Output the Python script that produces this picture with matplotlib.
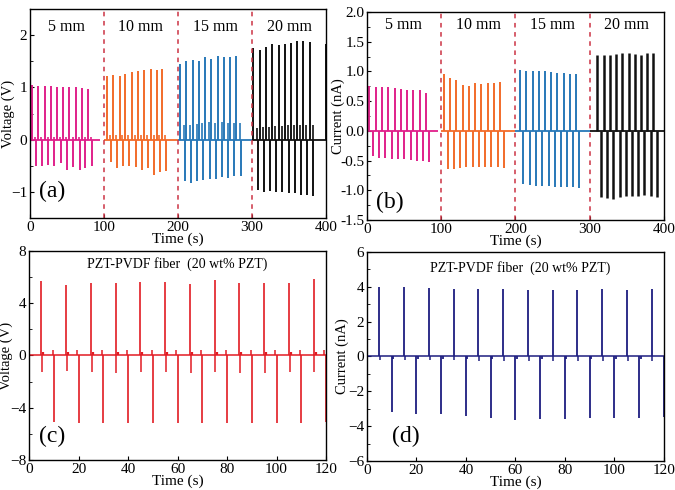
import matplotlib
matplotlib.use('Agg')
import matplotlib.pyplot as plt
from matplotlib.ticker import MultipleLocator

plt.rcParams['font.family'] = ['Liberation Serif', 'DejaVu Serif']
plt.rcParams['font.size'] = 11

# ---- data ----
segments = ['5 mm', '10 mm', '15 mm', '20 mm']
seg_colors = ['#e0208a', '#f26b2a', '#2878b8', '#111111']
seg_ranges = [(0, 95), (100, 200), (200, 300), (300, 400)]

# (a) voltage
a_pos_t = [[3, 11, 20, 28, 36.5, 45, 53, 62, 70, 78],
           [104, 112, 121, 129, 138, 146, 154, 163, 171, 179],
           [203, 211, 220, 228, 237, 245, 254, 262, 270, 279],
           [302, 311, 319, 327, 336, 344, 353, 361, 369, 378, 399.5]]
a_pos_v = [[1.05, 1.02, 1.03, 1.03, 1.0, 1.01, 1.01, 1.0, 0.98, 0.96],
           [1.21, 1.23, 1.22, 1.25, 1.29, 1.31, 1.33, 1.35, 1.33, 1.35],
           [1.45, 1.50, 1.52, 1.50, 1.58, 1.55, 1.60, 1.58, 1.58, 1.60],
           [1.75, 1.72, 1.78, 1.83, 1.82, 1.83, 1.85, 1.88, 1.88, 1.87, 1.83]]
a_neg_t = [[8, 16.5, 25, 33, 41.5, 50, 58.5, 67, 75, 83.5],
           [109, 117, 126, 134, 143, 151, 159, 168, 176, 184],
           [209, 217, 226, 234, 243, 251, 260, 268, 276, 285],
           [307.5, 316, 324.5, 332.5, 341, 349.5, 358, 366, 374.5, 383]]
a_neg_v = [[-0.50, -0.50, -0.48, -0.50, -0.45, -0.59, -0.52, -0.59, -0.54, -0.51],
           [-0.42, -0.55, -0.50, -0.50, -0.52, -0.58, -0.55, -0.68, -0.62, -0.60],
           [-0.80, -0.83, -0.80, -0.77, -0.75, -0.75, -0.72, -0.73, -0.70, -0.70],
           [-0.97, -1.00, -0.98, -1.00, -1.00, -1.03, -1.02, -1.05, -1.05, -1.08]]
# small positive peaks before the negative pulse (15 and 20 mm)
a_small_v = [[0.05] * 10, [0.08] * 10,
             [0.28, 0.29, 0.30, 0.31, 0.33, 0.32, 0.33, 0.31, 0.32, 0.31],
             [0.22, 0.24, 0.25, 0.27, 0.27, 0.28, 0.28, 0.29, 0.29, 0.29]]

# (b) current
b_pos_t = [[3, 11.7, 20.2, 28.7, 37.3, 45.8, 54, 62.4, 71, 79],
           [103.5, 112, 120.5, 129, 137.5, 146, 154, 162.5, 171, 179],
           [205.6, 214.6, 223.2, 231.3, 239.7, 248.2, 256.3, 264.9, 273, 281],
           [310.2, 318.8, 327.3, 335.8, 343.9, 352.5, 360.6, 369, 377.6, 385.6]]
b_pos_v = [[0.76, 0.74, 0.73, 0.73, 0.72, 0.70, 0.69, 0.68, 0.68, 0.63],
           [0.95, 0.89, 0.85, 0.78, 0.76, 0.80, 0.79, 0.81, 0.81, 0.82],
           [1.02, 1.01, 1.00, 1.00, 1.00, 0.99, 0.98, 0.97, 0.96, 0.96],
           [1.28, 1.27, 1.27, 1.30, 1.31, 1.31, 1.30, 1.28, 1.31, 1.31]]
b_neg_t = [[8.1, 16.6, 24.7, 33.3, 41.8, 50.3, 58.9, 67, 75.4, 83.9],
           [108.5, 117, 125.5, 134, 142.5, 151, 159, 167.5, 176, 184],
           [210.6, 219.6, 228.2, 236.3, 244.7, 253.2, 261.3, 269.9, 278, 286],
           [314.7, 323.3, 331.8, 340.3, 348.4, 357, 365.1, 373.5, 382.1, 390.1]]
b_neg_v = [[-0.42, -0.45, -0.46, -0.47, -0.47, -0.48, -0.49, -0.51, -0.51, -0.52],
           [-0.65, -0.65, -0.62, -0.61, -0.60, -0.60, -0.61, -0.61, -0.61, -0.62],
           [-0.90, -0.91, -0.92, -0.93, -0.93, -0.94, -0.94, -0.94, -0.95, -0.96],
           [-1.11, -1.13, -1.14, -1.12, -1.10, -1.09, -1.10, -1.08, -1.10, -1.11]]

# (c) and (d), 20 wt% PZT fiber
cd_pos_t = [5, 15, 25, 35, 45, 55, 65, 75, 85, 95, 105, 115]
cd_neg_t = [10, 20, 30, 40, 50, 60, 70, 80, 90, 100, 110, 119.8]
c_pos_v = [5.7, 5.4, 5.55, 5.55, 5.65, 5.65, 5.45, 5.8, 5.55, 5.55, 5.55, 5.85]
c_after_v = [-1.25, -1.2, -1.3, -1.35, -1.3, -1.3, -1.35, -1.3, -1.35, -1.35, -1.3, -1.25]
c_before_v = [0.4] * 12
c_neg_v = [-5.1, -5.15, -5.15, -5.15, -5.15, -5.15, -5.15, -5.15, -5.15, -5.15, -5.15, -5.1]
d_pos_v = [4.0, 4.0, 3.96, 3.9, 3.85, 3.87, 3.81, 3.83, 3.83, 3.85, 3.83, 3.87]
d_after_v = [-0.2, -0.2, -0.2, -0.2, -0.25, -0.25, -0.25, -0.25, -0.25, -0.25, -0.25, -0.25]
d_neg_v = [-3.18, -3.3, -3.28, -3.4, -3.52, -3.65, -3.6, -3.6, -3.56, -3.56, -3.52, -3.47]

fig = plt.figure(figsize=(6.75, 4.9), dpi=100)
ax_a = fig.add_axes([0.0444, 0.555, 0.4386, 0.4266])
ax_b = fig.add_axes([0.5437, 0.551, 0.44, 0.4245])
ax_c = fig.add_axes([0.043, 0.0612, 0.44, 0.4268])
ax_d = fig.add_axes([0.5437, 0.0592, 0.44, 0.4265])


def style(ax, xlim, ylim, xstep, ystep, ylabel, ylab_x):
    ax.set_xlim(*xlim)
    ax.set_ylim(*ylim)
    ax.xaxis.set_major_locator(MultipleLocator(xstep))
    ax.yaxis.set_major_locator(MultipleLocator(ystep))
    ax.yaxis.set_minor_locator(MultipleLocator(ystep / 2))
    ax.tick_params(direction='in', length=3, width=0.8, labelsize=11, pad=2)
    ax.tick_params(which='minor', direction='in', length=2, width=0.6)
    ax.set_xlabel('Time (s)', fontsize=11, labelpad=-1)
    ax.set_ylabel(ylabel, fontsize=10.5)
    ax.yaxis.set_label_coords(ylab_x, 0.5)
    for s in ax.spines.values():
        s.set_linewidth(1.0)


# ---- (a) ----
for i in range(4):
    c = seg_colors[i]
    ax_a.hlines(0, seg_ranges[i][0], seg_ranges[i][1], color=c, lw=1.3)
    ax_a.vlines(a_pos_t[i], 0, a_pos_v[i], color=c, lw=1.4)
    ax_a.vlines(a_neg_t[i], a_neg_v[i], 0, color=c, lw=1.4)
    ax_a.vlines([t - 1 for t in a_neg_t[i]], 0, a_small_v[i], color=c, lw=1.2)
    ax_a.text((seg_ranges[i][0] + seg_ranges[i][1]) / 2 + (2 if i == 0 else 0),
              2.15, segments[i], ha='center', va='center', fontsize=11.5)
for x in [100, 200, 300]:
    ax_a.axvline(x, color='#cc3344', ls=(0, (3, 3)), lw=1.1)
style(ax_a, (0, 400), (-1.5, 2.5), 100, 1, 'Voltage (V)', -0.05)
ax_a.yaxis.set_minor_locator(MultipleLocator(0.5))
ax_a.text(12, -1.0, '(a)', fontsize=17, va='center')

# ---- (b) ----
for i in range(4):
    c = seg_colors[i]
    ax_b.hlines(0, seg_ranges[i][0], seg_ranges[i][1], color=c, lw=1.3)
    w = 1.8 if i == 3 else 1.4
    ax_b.vlines(b_pos_t[i], 0, b_pos_v[i], color=c, lw=w)
    ax_b.vlines(b_neg_t[i], b_neg_v[i], 0, color=c, lw=w)
    ax_b.text((seg_ranges[i][0] + seg_ranges[i][1]) / 2 + (2 if i == 0 else 0),
              1.78, segments[i], ha='center', va='center', fontsize=11.5)
for x in [100, 200, 300]:
    ax_b.axvline(x, color='#cc3344', ls=(0, (3, 3)), lw=1.1)
style(ax_b, (0, 400), (-1.5, 2.0), 100, 0.5, 'Current (nA)', -0.074)
ax_b.yaxis.set_major_formatter(plt.FormatStrFormatter('%.1f'))
ax_b.text(12, -1.2, '(b)', fontsize=17, va='center')

# ---- (c) ----
red = '#e21b23'
ax_c.hlines(0, 0, 120, color=red, lw=1.1)
ax_c.vlines(cd_pos_t, 0, c_pos_v, color=red, lw=1.2)
ax_c.vlines([t + 0.3 for t in cd_pos_t], c_after_v, 0, color=red, lw=1.1)
ax_c.vlines([t + 0.8 for t in cd_pos_t], 0, 0.25, color=red, lw=1.6)
ax_c.vlines([t - 0.5 for t in cd_neg_t], 0, c_before_v, color=red, lw=1.1)
ax_c.vlines(cd_neg_t, c_neg_v, 0, color=red, lw=1.2)
style(ax_c, (0, 120), (-8, 8), 20, 4, 'Voltage (V)', -0.054)
ax_c.yaxis.set_minor_locator(MultipleLocator(2))
ax_c.text(60, 7.0, 'PZT-PVDF fiber  (20 wt% PZT)', ha='center', va='center', fontsize=10)
ax_c.text(4, -6.2, '(c)', fontsize=17, va='center')

# ---- (d) ----
navy = '#1e1e80'
ax_d.hlines(0, 0, 120, color=navy, lw=1.1)
ax_d.vlines(cd_pos_t, 0, d_pos_v, color=navy, lw=1.3)
ax_d.vlines([t + 0.3 for t in cd_pos_t], d_after_v, 0, color=navy, lw=1.1)
ax_d.vlines(cd_neg_t, d_neg_v, 0, color=navy, lw=1.3)
ax_d.vlines([t + 0.6 for t in cd_neg_t[:-1]], -0.15, 0, color=navy, lw=1.3)
style(ax_d, (0, 120), (-6, 6), 20, 2, 'Current (nA)', -0.062)
ax_d.yaxis.set_minor_locator(MultipleLocator(1))
ax_d.text(62, 5.1, 'PZT-PVDF fiber  (20 wt% PZT)', ha='center', va='center', fontsize=10)
ax_d.text(10, -4.6, '(d)', fontsize=17, va='center')

fig.savefig('out.png', dpi=100)
